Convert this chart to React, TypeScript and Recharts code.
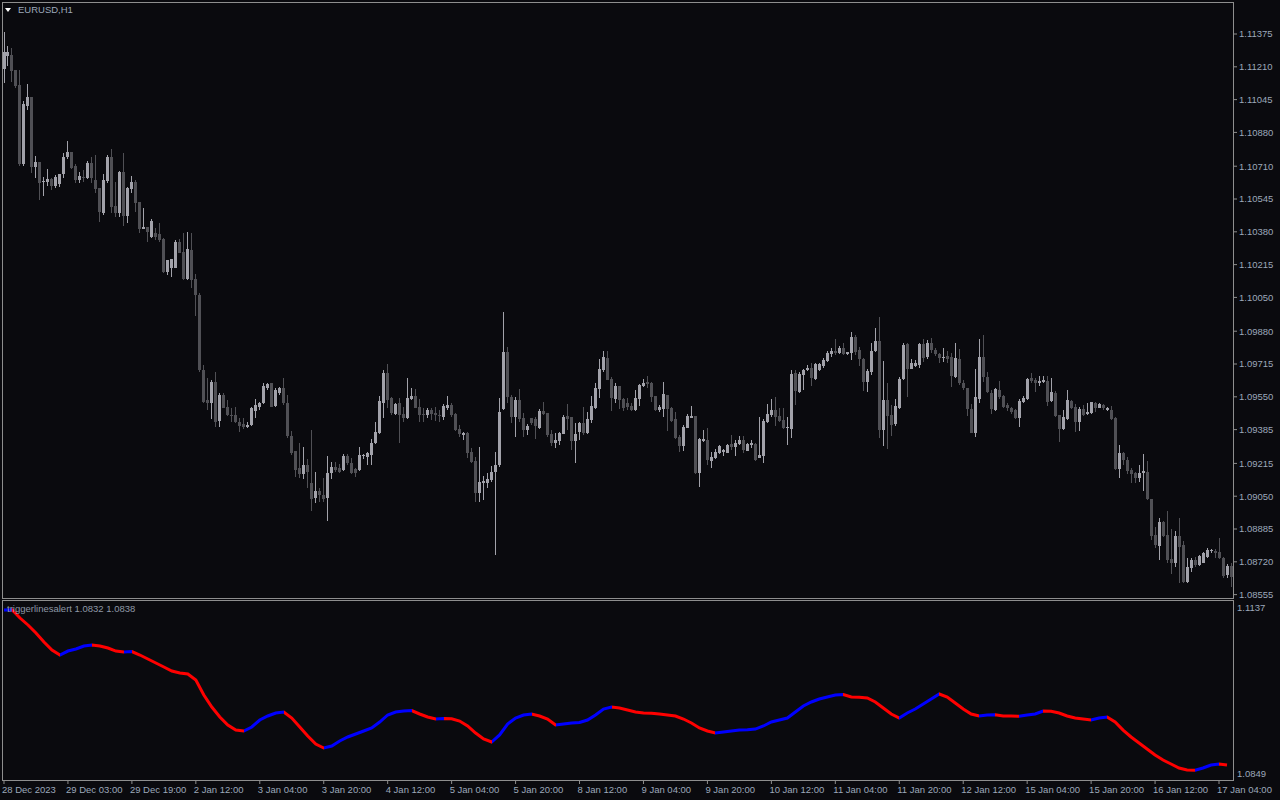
import { Bar, ComposedChart, Line, XAxis, YAxis } from 'recharts'

const BG = '#0a0a0e'
const FRAME = '#8e8e8e'
const TEXT = '#9ca8ba'
const BULL = '#a2a2aa'
const BEAR = '#505055'
const UP = '#0000ff'
const DOWN = '#ff0000'
const FONT = '"Liberation Sans", Arial, sans-serif'

// EURUSD H1 bars, 28 Dec 2023 11:00 .. 17 Jan 2024
const OPEN = [
  1.11199, 1.11264, 1.11269, 1.11194, 1.11118, 1.10721, 1.11013, 1.11058, 1.10706, 1.10731,
  1.10631, 1.10631, 1.10646, 1.1061, 1.1062, 1.10671, 1.10756, 1.10781, 1.10711, 1.10641,
  1.10656, 1.10651, 1.10726, 1.10641, 1.106, 1.10475, 1.10636, 1.10756, 1.1051, 1.10475,
  1.10681, 1.1046, 1.10595, 1.10631, 1.1053, 1.10394, 1.10404, 1.10354, 1.10374, 1.10369,
  1.10344, 1.10178, 1.10198, 1.10198, 1.10329, 1.10278, 1.10143, 1.10288, 1.10143, 1.10062,
  1.09685, 1.09534, 1.09519, 1.09625, 1.09428, 1.09559, 1.09499, 1.09459, 1.09459, 1.09423,
  1.09413, 1.09398, 1.09408, 1.09479, 1.09499, 1.09519, 1.09594, 1.0962, 1.09504, 1.09569,
  1.09594, 1.09519, 1.09353, 1.09277, 1.09192, 1.09162, 1.09207, 1.09117, 1.09041, 1.09076,
  1.09056, 1.09041, 1.09167, 1.09197, 1.09192, 1.09182, 1.09252, 1.09217, 1.09187, 1.09182,
  1.09252, 1.09247, 1.09257, 1.09318, 1.09368, 1.09519, 1.0967, 1.09544, 1.09464, 1.09519,
  1.09464, 1.09443, 1.09539, 1.09554, 1.09499, 1.09464, 1.09459, 1.09484, 1.09469, 1.09459,
  1.09448, 1.09494, 1.09509, 1.09464, 1.09388, 1.09358, 1.09368, 1.09272, 1.09227, 1.09066,
  1.09117, 1.09117, 1.09132, 1.09172, 1.09207, 1.09489, 1.09775, 1.09549, 1.09448, 1.09534,
  1.09443, 1.09383, 1.09443, 1.09438, 1.09393, 1.09479, 1.09469, 1.09363, 1.09318, 1.09328,
  1.09363, 1.09454, 1.09448, 1.09328, 1.09373, 1.09418, 1.09368, 1.09433, 1.09494, 1.09589,
  1.09685, 1.09745, 1.0964, 1.09539, 1.09604, 1.09539, 1.09519, 1.09504, 1.09484, 1.09539,
  1.09604, 1.09625, 1.0962, 1.09554, 1.09484, 1.09489, 1.09559, 1.09494, 1.09438, 1.09348,
  1.09303, 1.09393, 1.09443, 1.09454, 1.09167, 1.09328, 1.09333, 1.09227, 1.09242, 1.09267,
  1.09272, 1.09267, 1.09313, 1.09298, 1.09313, 1.09333, 1.09277, 1.09308, 1.09313, 1.09242,
  1.09252, 1.09423, 1.09459, 1.09484, 1.09454, 1.09433, 1.09393, 1.09388, 1.0967, 1.09574,
  1.0966, 1.09685, 1.09695, 1.0964, 1.09685, 1.09705, 1.0973, 1.09765, 1.0978, 1.0977,
  1.09796, 1.09765, 1.0977, 1.09851, 1.09785, 1.0974, 1.09625, 1.09675, 1.0978, 1.09831,
  1.09383, 1.09534, 1.09459, 1.09413, 1.09494, 1.0964, 1.09816, 1.0969, 1.09705, 1.0971,
  1.09816, 1.0975, 1.09821, 1.09785, 1.09765, 1.0975, 1.09755, 1.0975, 1.0965, 1.0974,
  1.0962, 1.09594, 1.09489, 1.09368, 1.09539, 1.0975, 1.0965, 1.09569, 1.09484, 1.09584,
  1.09554, 1.09509, 1.09494, 1.09484, 1.09443, 1.09524, 1.09539, 1.09645, 1.09635, 1.0962,
  1.09625, 1.0963, 1.09529, 1.09569, 1.09459, 1.09388, 1.09438, 1.09529, 1.09499, 1.09423,
  1.09489, 1.09464, 1.09469, 1.09519, 1.09494, 1.09509, 1.09484, 1.09484, 1.09443, 1.09187,
  1.09267, 1.09232, 1.09182, 1.09167, 1.09142, 1.09167, 1.09172, 1.09036, 1.08855, 1.088,
  1.0892, 1.08855, 1.08734, 1.08714, 1.0885, 1.08805, 1.08619, 1.08689, 1.08729, 1.08704,
  1.08714, 1.08744, 1.08774, 1.08774, 1.08769, 1.08739, 1.08654, 1.08699,
]

const HIGH = [
  1.11385, 1.11315, 1.11305, 1.11194, 1.11194, 1.11038, 1.11123, 1.11058, 1.10761, 1.10731,
  1.10656, 1.10696, 1.10651, 1.10666, 1.10671, 1.10776, 1.10837, 1.10781, 1.10721, 1.10681,
  1.10691, 1.10736, 1.10756, 1.10766, 1.106, 1.10671, 1.10766, 1.10797, 1.10631, 1.10686,
  1.10776, 1.10605, 1.10661, 1.10641, 1.1053, 1.105, 1.10404, 1.10444, 1.10399, 1.10424,
  1.10349, 1.10238, 1.10243, 1.10339, 1.10344, 1.10374, 1.10379, 1.10374, 1.10168, 1.10072,
  1.0971, 1.09645, 1.09635, 1.09675, 1.09569, 1.09569, 1.09534, 1.09494, 1.09499, 1.09443,
  1.09443, 1.09423, 1.09499, 1.09539, 1.09524, 1.0962, 1.0962, 1.0962, 1.09594, 1.09599,
  1.09645, 1.09559, 1.09378, 1.09277, 1.09318, 1.09298, 1.09237, 1.09383, 1.09172, 1.09091,
  1.09142, 1.09252, 1.09222, 1.09222, 1.09212, 1.09262, 1.09262, 1.09242, 1.09192, 1.09298,
  1.09262, 1.09272, 1.09338, 1.09423, 1.09554, 1.09685, 1.09715, 1.09549, 1.09519, 1.09544,
  1.09499, 1.09645, 1.09594, 1.09589, 1.09539, 1.09494, 1.09494, 1.09494, 1.09499, 1.09484,
  1.09514, 1.09554, 1.09519, 1.09469, 1.09408, 1.09373, 1.09373, 1.09293, 1.09247, 1.09298,
  1.09152, 1.09167, 1.09202, 1.09272, 1.09544, 1.09977, 1.09801, 1.09559, 1.09549, 1.09589,
  1.09469, 1.09413, 1.09443, 1.09448, 1.09489, 1.09524, 1.09469, 1.09383, 1.09368, 1.09373,
  1.09459, 1.09514, 1.09448, 1.09418, 1.09423, 1.09499, 1.09474, 1.09554, 1.0962, 1.0974,
  1.0978, 1.0978, 1.0965, 1.0962, 1.09604, 1.09544, 1.09544, 1.09519, 1.09584, 1.09614,
  1.0964, 1.09655, 1.09625, 1.09554, 1.09509, 1.09625, 1.09559, 1.09499, 1.09474, 1.09358,
  1.09408, 1.09464, 1.09504, 1.09454, 1.09343, 1.09383, 1.09393, 1.09272, 1.09288, 1.09308,
  1.09288, 1.09313, 1.09358, 1.09333, 1.09353, 1.09353, 1.09318, 1.09333, 1.09318, 1.09448,
  1.09438, 1.09514, 1.09539, 1.09549, 1.09494, 1.09494, 1.09448, 1.09685, 1.09685, 1.09675,
  1.0969, 1.0971, 1.0972, 1.0972, 1.0972, 1.09745, 1.0978, 1.09796, 1.09841, 1.09806,
  1.09821, 1.09775, 1.09876, 1.09861, 1.09801, 1.09745, 1.0969, 1.09821, 1.09896, 1.09951,
  1.0973, 1.0962, 1.09509, 1.09539, 1.0965, 1.09821, 1.09821, 1.0974, 1.09735, 1.09821,
  1.09841, 1.09836, 1.09846, 1.09796, 1.0977, 1.09796, 1.0978, 1.0977, 1.09821, 1.09791,
  1.09635, 1.09594, 1.09514, 1.0969, 1.09841, 1.09861, 1.09675, 1.09584, 1.09594, 1.0963,
  1.09559, 1.09519, 1.09499, 1.09489, 1.09539, 1.09554, 1.09645, 1.0967, 1.09645, 1.09655,
  1.09655, 1.09655, 1.09645, 1.09579, 1.09459, 1.09484, 1.09584, 1.09534, 1.09514, 1.09499,
  1.09509, 1.09519, 1.09524, 1.09524, 1.09519, 1.09514, 1.09499, 1.09504, 1.09448, 1.09308,
  1.09272, 1.09247, 1.09192, 1.09172, 1.09207, 1.09262, 1.09227, 1.09036, 1.08895, 1.0894,
  1.08925, 1.08976, 1.08885, 1.08875, 1.0894, 1.08825, 1.08739, 1.08739, 1.08744, 1.08754,
  1.08769, 1.0879, 1.08785, 1.08785, 1.0884, 1.08744, 1.08709, 1.08714,
]

const LOW = [
  1.11129, 1.11214, 1.11134, 1.11103, 1.10711, 1.10711, 1.10993, 1.10676, 1.10651, 1.1054,
  1.1056, 1.1061, 1.1059, 1.106, 1.10605, 1.10651, 1.10746, 1.10696, 1.10626, 1.10626,
  1.10631, 1.10646, 1.10626, 1.10575, 1.10429, 1.10465, 1.10626, 1.10475, 1.10454, 1.10454,
  1.10409, 1.10424, 1.10575, 1.1048, 1.10374, 1.10394, 1.10329, 1.10349, 1.10339, 1.10329,
  1.10173, 1.10163, 1.10153, 1.10198, 1.10273, 1.10138, 1.10138, 1.10097, 1.09957, 1.09675,
  1.09519, 1.09484, 1.09438, 1.09398, 1.09398, 1.09494, 1.09454, 1.09423, 1.09418, 1.09373,
  1.09388, 1.09393, 1.09403, 1.09443, 1.09484, 1.09514, 1.09584, 1.09499, 1.09499, 1.09559,
  1.09509, 1.09343, 1.09257, 1.09147, 1.09142, 1.09137, 1.09091, 1.08976, 1.09016, 1.09021,
  1.09021, 1.08925, 1.09137, 1.09172, 1.09167, 1.09177, 1.09207, 1.09162, 1.09147, 1.09177,
  1.09237, 1.09207, 1.09207, 1.09313, 1.09363, 1.09443, 1.09494, 1.09459, 1.09459, 1.09318,
  1.09423, 1.09438, 1.09534, 1.09494, 1.09423, 1.09423, 1.09443, 1.09433, 1.09428, 1.09423,
  1.09433, 1.09484, 1.09448, 1.09378, 1.09348, 1.09333, 1.09242, 1.09217, 1.09021, 1.09021,
  1.09031, 1.09091, 1.09122, 1.08754, 1.09197, 1.09484, 1.09519, 1.09418, 1.09348, 1.09423,
  1.09348, 1.09358, 1.09408, 1.09338, 1.09388, 1.09459, 1.09348, 1.09303, 1.09293, 1.09308,
  1.09363, 1.09383, 1.09282, 1.09217, 1.09333, 1.09358, 1.09363, 1.09418, 1.09489, 1.09544,
  1.09675, 1.09635, 1.09479, 1.09519, 1.09489, 1.09479, 1.09484, 1.09479, 1.09479, 1.09504,
  1.09599, 1.09594, 1.09524, 1.09479, 1.09474, 1.09448, 1.09378, 1.09423, 1.09338, 1.09272,
  1.09277, 1.09393, 1.09443, 1.09162, 1.09096, 1.09323, 1.09207, 1.09192, 1.09237, 1.09262,
  1.09252, 1.09267, 1.09282, 1.09252, 1.09308, 1.09267, 1.09277, 1.09293, 1.09227, 1.09242,
  1.09217, 1.09418, 1.09448, 1.09403, 1.09423, 1.09388, 1.09308, 1.09343, 1.09509, 1.09569,
  1.09584, 1.0968, 1.09604, 1.09635, 1.0968, 1.09695, 1.09725, 1.0975, 1.0976, 1.09765,
  1.0976, 1.0976, 1.09735, 1.0976, 1.09705, 1.09579, 1.09574, 1.0966, 1.09775, 1.09343,
  1.09303, 1.09288, 1.09353, 1.09403, 1.09489, 1.09635, 1.09549, 1.09695, 1.097, 1.09695,
  1.09725, 1.0974, 1.0977, 1.09755, 1.0972, 1.09725, 1.0972, 1.09599, 1.09645, 1.09609,
  1.09584, 1.09454, 1.09368, 1.09348, 1.09519, 1.09625, 1.09569, 1.09464, 1.09479, 1.09539,
  1.09494, 1.09479, 1.09464, 1.09438, 1.09398, 1.09519, 1.09534, 1.0962, 1.09574, 1.09604,
  1.0962, 1.09504, 1.09524, 1.09448, 1.09323, 1.09383, 1.09433, 1.09489, 1.09373, 1.09378,
  1.09454, 1.09459, 1.09464, 1.09474, 1.09494, 1.09484, 1.09479, 1.09433, 1.09182, 1.09142,
  1.09207, 1.09162, 1.09117, 1.09117, 1.09122, 1.09076, 1.09031, 1.0883, 1.0879, 1.08729,
  1.08845, 1.08714, 1.08659, 1.08694, 1.08614, 1.08614, 1.08614, 1.08669, 1.08694, 1.08699,
  1.08714, 1.08739, 1.08764, 1.08739, 1.08734, 1.08639, 1.08639, 1.08593,
]

const CLOSE = [
  1.11284, 1.11284, 1.11189, 1.11113, 1.10721, 1.11023, 1.11058, 1.10706, 1.10731, 1.10626,
  1.10636, 1.10646, 1.1061, 1.10656, 1.10671, 1.10756, 1.10781, 1.10701, 1.10641, 1.10661,
  1.10651, 1.10726, 1.10651, 1.10595, 1.1048, 1.10641, 1.10756, 1.10505, 1.10475, 1.10681,
  1.1046, 1.106, 1.10631, 1.10525, 1.10394, 1.10404, 1.10379, 1.10434, 1.10354, 1.10339,
  1.10178, 1.10238, 1.10243, 1.10329, 1.10273, 1.10143, 1.10294, 1.10138, 1.10062, 1.09685,
  1.09524, 1.09519, 1.09625, 1.09423, 1.09559, 1.09494, 1.09459, 1.09454, 1.09423, 1.09403,
  1.09398, 1.09408, 1.09494, 1.09509, 1.09519, 1.09604, 1.09614, 1.09499, 1.09584, 1.09594,
  1.09519, 1.09353, 1.09267, 1.09182, 1.09162, 1.09207, 1.09172, 1.09036, 1.09076, 1.09056,
  1.09036, 1.09167, 1.09197, 1.09182, 1.09172, 1.09252, 1.09217, 1.09167, 1.09167, 1.09257,
  1.09257, 1.09267, 1.09318, 1.09373, 1.09529, 1.0967, 1.09534, 1.09469, 1.09514, 1.09459,
  1.09443, 1.09544, 1.09554, 1.09494, 1.09459, 1.09459, 1.09484, 1.09464, 1.09459, 1.09454,
  1.09504, 1.09509, 1.09459, 1.09383, 1.09363, 1.09368, 1.09267, 1.09222, 1.09066, 1.09122,
  1.09127, 1.09137, 1.09172, 1.09207, 1.09474, 1.09775, 1.09549, 1.09448, 1.09534, 1.09438,
  1.09383, 1.09403, 1.09418, 1.09403, 1.09479, 1.09464, 1.09358, 1.09318, 1.09333, 1.09368,
  1.09448, 1.09438, 1.09328, 1.09363, 1.09418, 1.09368, 1.09438, 1.09504, 1.09594, 1.0969,
  1.0975, 1.09635, 1.09544, 1.09604, 1.09534, 1.09494, 1.09499, 1.09484, 1.09544, 1.09609,
  1.0962, 1.09614, 1.09549, 1.09484, 1.09499, 1.09564, 1.09489, 1.09428, 1.09343, 1.09303,
  1.09398, 1.09454, 1.09454, 1.09167, 1.09338, 1.09338, 1.09232, 1.09247, 1.09272, 1.09303,
  1.09282, 1.09308, 1.09298, 1.09318, 1.09333, 1.09282, 1.09313, 1.09318, 1.09232, 1.09257,
  1.09428, 1.09464, 1.09484, 1.09448, 1.09428, 1.09393, 1.09398, 1.09665, 1.09579, 1.09665,
  1.09685, 1.09695, 1.09645, 1.09715, 1.09715, 1.09735, 1.0977, 1.0978, 1.0977, 1.09796,
  1.09765, 1.09775, 1.09851, 1.09775, 1.0974, 1.09625, 1.0968, 1.0978, 1.09831, 1.09383,
  1.09534, 1.09454, 1.09408, 1.09504, 1.0964, 1.09811, 1.0969, 1.0972, 1.0972, 1.09816,
  1.09745, 1.09821, 1.09786, 1.09765, 1.09745, 1.0975, 1.0974, 1.09655, 1.09745, 1.0962,
  1.09594, 1.09489, 1.09368, 1.09549, 1.0975, 1.0965, 1.09574, 1.09489, 1.09589, 1.09549,
  1.09499, 1.09494, 1.09474, 1.09443, 1.09529, 1.09544, 1.0964, 1.0963, 1.0962, 1.0963,
  1.09635, 1.09524, 1.09574, 1.09454, 1.09388, 1.09448, 1.09534, 1.09494, 1.09423, 1.09489,
  1.09459, 1.09474, 1.09524, 1.09494, 1.09514, 1.09494, 1.09494, 1.09438, 1.09187, 1.09267,
  1.09232, 1.09177, 1.09162, 1.09142, 1.09167, 1.09177, 1.09036, 1.0885, 1.08805, 1.0892,
  1.0885, 1.08729, 1.08714, 1.0885, 1.08795, 1.08619, 1.08694, 1.08729, 1.08704, 1.08749,
  1.08764, 1.08779, 1.08779, 1.08764, 1.08739, 1.08649, 1.08699, 1.08644,
]

// triggerlinesalert value, one reading every second bar
const TRIGGER = [
  1.11225, 1.1123, 1.11096, 1.10984, 1.10855, 1.1071, 1.10582, 1.10501, 1.10565, 1.10598,
  1.10646, 1.10662, 1.10646, 1.10614, 1.10565, 1.10549, 1.10557, 1.10501, 1.10437, 1.10372,
  1.10308, 1.10244, 1.10212, 1.10195, 1.10099, 1.09858, 1.09664, 1.09504, 1.09375, 1.09294,
  1.09278, 1.09343, 1.09455, 1.0952, 1.09568, 1.09584, 1.09487, 1.09343, 1.09198, 1.09069,
  1.09005, 1.09037, 1.09117, 1.09182, 1.0923, 1.09278, 1.09327, 1.09423, 1.09536, 1.09584,
  1.096, 1.09608, 1.09552, 1.09504, 1.09471, 1.0948, 1.09475, 1.09439, 1.09359, 1.09246,
  1.0915, 1.09101, 1.09214, 1.09391, 1.09487, 1.09536, 1.09552, 1.0952, 1.09471, 1.09375,
  1.09391, 1.09407, 1.09415, 1.09455, 1.09536, 1.09632, 1.09664, 1.09648, 1.09616, 1.09584,
  1.09568, 1.09565, 1.09552, 1.09536, 1.0952, 1.09471, 1.09407, 1.09327, 1.09278, 1.09246,
  1.09262, 1.09278, 1.09294, 1.09298, 1.0931, 1.09359, 1.09423, 1.09455, 1.09487, 1.09584,
  1.09681, 1.09745, 1.09793, 1.09825, 1.09858, 1.09866, 1.09825, 1.09822, 1.09809, 1.09745,
  1.09648, 1.09552, 1.09487, 1.09568, 1.09632, 1.09713, 1.09793, 1.09874, 1.09825, 1.09729,
  1.09632, 1.09552, 1.0952, 1.09536, 1.09538, 1.0952, 1.09518, 1.09516, 1.09536, 1.09552,
  1.096, 1.09596, 1.09568, 1.0952, 1.09487, 1.09471, 1.09455, 1.09487, 1.09504, 1.09423,
  1.09294, 1.09182, 1.09085, 1.08989, 1.08892, 1.08812, 1.08747, 1.08683, 1.08651, 1.08648,
  1.08683, 1.08731, 1.08747, 1.08731,
]

const PRICE_TICKS = [
  1.11375, 1.1121, 1.11045, 1.1088, 1.1071, 1.10545, 1.1038, 1.10215, 1.1005,
  1.0988, 1.09715, 1.0955, 1.09385, 1.09215, 1.0905, 1.08885, 1.0872, 1.08555,
]

const TIME_LABELS = [
  '28 Dec 2023', '29 Dec 03:00', '29 Dec 19:00', '2 Jan 12:00', '3 Jan 04:00',
  '3 Jan 20:00', '4 Jan 12:00', '5 Jan 04:00', '5 Jan 20:00', '8 Jan 12:00',
  '9 Jan 04:00', '9 Jan 20:00', '10 Jan 12:00', '11 Jan 04:00', '11 Jan 20:00',
  '12 Jan 12:00', '15 Jan 04:00', '15 Jan 20:00', '16 Jan 12:00', '17 Jan 04:00',
]
const BARS_PER_LABEL = 16
const TIME_TICKS = TIME_LABELS.map((_, k) => k * BARS_PER_LABEL)

const candles = CLOSE.map((c, i) => ({ bar: i, o: OPEN[i], h: HIGH[i], l: LOW[i], c }))
const trigger = TRIGGER.map((v, k) => ({ bar: k * 2, v }))

// red while the trigger line falls, blue while it rises
const segColors = TRIGGER.slice(1).map((v, k) => (v > TRIGGER[k] ? UP : DOWN))
const lastIdx = TRIGGER.length - 1

function Candle(props: any) {
  const { x, y, width, height, payload } = props
  if (!payload) return null
  const top = height >= 0 ? y : y + height
  const span = Math.abs(height)
  const { o, h, l, c } = payload
  const toPx = (p: number) => (h === l ? top : top + ((h - p) / (h - l)) * span)
  const cx = x + width / 2
  const bodyTop = toPx(Math.max(o, c))
  const bodyBottom = toPx(Math.min(o, c))
  const color = c >= o ? BULL : BEAR
  return (
    <g shapeRendering="crispEdges">
      <rect
        x={Math.round(cx - 0.5)}
        y={Math.round(top)}
        width={1}
        height={Math.max(1, Math.round(span))}
        fill={color}
      />
      <rect
        x={Math.round(cx - 1.5)}
        y={Math.round(bodyTop)}
        width={3}
        height={Math.max(1, Math.round(bodyBottom - bodyTop))}
        fill={color}
      />
    </g>
  )
}

function TimeTick({ x, y, payload }: any) {
  const label = TIME_LABELS[Math.round(payload.value / BARS_PER_LABEL)]
  return (
    <text x={x - 2} y={y + 7} fill={TEXT} fontSize={9.5} fontFamily={FONT} textAnchor="start">
      {label}
    </text>
  )
}

function LevelTick({ x, y, payload }: any) {
  const isTop = payload.value > 1.1
  return (
    <text x={x - 4} y={isTop ? y + 10 : y - 3} fill={TEXT} fontSize={9.5} fontFamily={FONT} textAnchor="start">
      {payload.value.toFixed(4)}
    </text>
  )
}

export default function App() {
  return (
    <div
      style={{
        position: 'fixed',
        left: 0,
        top: 0,
        width: 1280,
        height: 800,
        background: BG,
        overflow: 'hidden',
        fontFamily: FONT,
      }}
    >
      <div
        style={{
          position: 'absolute',
          left: 2,
          top: 2,
          width: 1230,
          height: 595,
          border: `1px solid ${FRAME}`,
        }}
      />
      <div
        style={{
          position: 'absolute',
          left: 2,
          top: 600,
          width: 1230,
          height: 179,
          border: `1px solid ${FRAME}`,
        }}
      />

      <div style={{ position: 'absolute', left: 0, top: 0 }}>
        <ComposedChart
          width={1280}
          height={600}
          data={candles}
          margin={{ top: 3, right: 3, bottom: 3, left: 2 }}
          barCategoryGap={0}
        >
          <XAxis dataKey="bar" hide />
          <YAxis
            orientation="right"
            width={44}
            domain={[1.08543, 1.11531]}
            allowDataOverflow
            ticks={PRICE_TICKS}
            interval={0}
            tickFormatter={(v: number) => v.toFixed(5)}
            tick={{ fill: TEXT, fontSize: 9.5, fontFamily: FONT }}
            tickSize={4}
            tickLine={{ stroke: FRAME }}
            axisLine={false}
          />
          <Bar
            dataKey={(d: any) => [d.l, d.h]}
            shape={(p: any) => <Candle {...p} />}
            isAnimationActive={false}
          />
        </ComposedChart>
      </div>

      <div style={{ position: 'absolute', left: 0, top: 600 }}>
        <ComposedChart
          width={1280}
          height={200}
          data={trigger}
          margin={{ top: 1, right: 3, bottom: 0, left: 2 }}
        >
          <defs>
            <linearGradient id="trigStroke" x1="0" y1="0" x2="1" y2="0">
              {segColors.flatMap((col, s) => [
                <stop key={`a${s}`} offset={s / lastIdx} stopColor={col} />,
                <stop key={`b${s}`} offset={(s + 1) / lastIdx} stopColor={col} />,
              ])}
            </linearGradient>
          </defs>
          <XAxis
            dataKey="bar"
            type="number"
            domain={[-0.5, 307.5]}
            allowDataOverflow
            ticks={TIME_TICKS}
            interval={0}
            height={20}
            tickSize={4}
            tickLine={{ stroke: FRAME }}
            axisLine={false}
            tick={<TimeTick />}
          />
          <YAxis
            orientation="right"
            width={44}
            domain={[1.0849, 1.1137]}
            allowDataOverflow
            ticks={[1.1137, 1.0849]}
            interval={0}
            tickLine={false}
            axisLine={false}
            tick={<LevelTick />}
          />
          <Line
            dataKey="v"
            type="linear"
            stroke="url(#trigStroke)"
            strokeWidth={3}
            dot={false}
            isAnimationActive={false}
          />
        </ComposedChart>
      </div>

      <div
        style={{
          position: 'absolute',
          left: 5,
          top: 8,
          width: 0,
          height: 0,
          borderLeft: '3px solid transparent',
          borderRight: '3px solid transparent',
          borderTop: '4px solid #ffffff',
        }}
      />
      <div style={{ position: 'absolute', left: 18, top: 4, fontSize: 9.5, color: TEXT, lineHeight: '12px' }}>
        EURUSD,H1
      </div>
      <div style={{ position: 'absolute', left: 7, top: 603, fontSize: 9.5, color: '#8e98a6', lineHeight: '12px' }}>
        triggerlinesalert 1.0832 1.0838
      </div>
    </div>
  )
}
